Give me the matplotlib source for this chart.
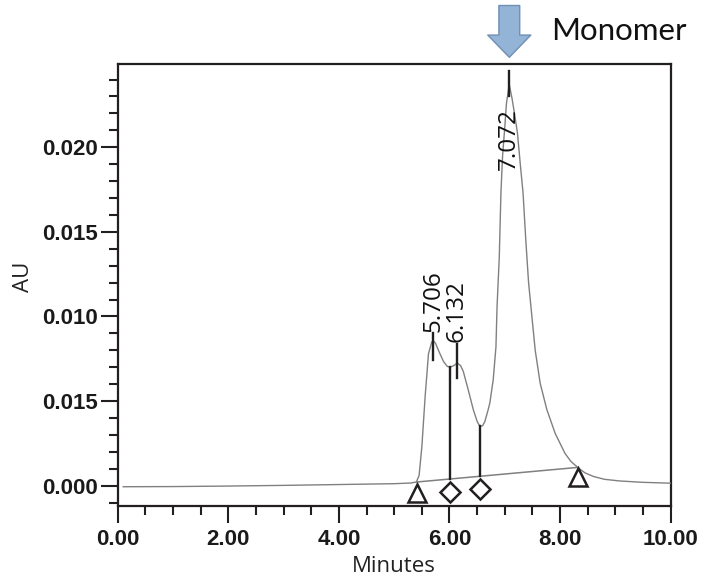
import matplotlib
matplotlib.use("Agg")
import matplotlib.pyplot as plt
import matplotlib.ticker as tick

# ---- data (signal in mAU, converted to AU when drawn) ----
time_min = [0.10, 1.00, 2.00, 3.00, 4.00, 5.00, 5.30, 5.40, 5.45, 5.50,
            5.56, 5.62, 5.68, 5.71, 5.75, 5.80, 5.89, 5.96, 6.01, 6.08,
            6.14, 6.20, 6.25, 6.34, 6.43, 6.50, 6.55, 6.60, 6.64, 6.70,
            6.73, 6.79, 6.84, 6.86, 6.90, 6.93, 6.96, 7.00, 7.03, 7.08,
            7.13, 7.18, 7.23, 7.28, 7.33, 7.38, 7.43, 7.49, 7.55, 7.64,
            7.76, 7.91, 8.09, 8.20, 8.33, 8.45, 8.60, 8.80, 9.08, 9.50, 10.00]
signal_mau = [-0.06, -0.05, -0.02, 0.02, 0.07, 0.12, 0.16, 0.22, 0.60, 2.30,
              5.30, 7.80, 8.50, 8.56, 8.40, 8.00, 7.35, 7.05, 7.00, 7.10,
              7.25, 7.10, 6.75, 5.65, 4.50, 3.80, 3.50, 3.55, 3.80, 4.50,
              4.90, 6.25, 8.20, 10.60, 13.50, 17.30, 19.50, 21.20, 22.60, 23.70,
              22.90, 21.90, 20.80, 19.00, 17.30, 14.50, 12.00, 10.00, 8.00, 6.05,
              4.50, 3.10, 1.90, 1.42, 1.05, 0.76, 0.55, 0.38, 0.28, 0.20, 0.15]

peak_times = [5.706, 6.132, 7.072]
peak_labels = ["5.706", "6.132", "7.072"]
peak_mark_lo = [7.44, 6.36, 23.0]
peak_mark_hi = [9.02, 8.40, 24.5]

drop_times = [6.01, 6.55]
drop_bottom = [0.39, 0.55]
drop_top = [7.00, 3.50]

base_times = [5.41, 8.31]
base_mau = [0.22, 1.08]

tri_times = [5.41, 8.33]
tri_mau = [-0.43, 0.50]
dia_times = [6.01, 6.56]
dia_mau = [-0.39, -0.18]

x_ticks = [0, 2, 4, 6, 8, 10]
x_ticklabels = ["0.00", "2.00", "4.00", "6.00", "8.00", "10.00"]
y_ticks = [0.000, 0.005, 0.010, 0.015, 0.020]
y_ticklabels = ["0.000", "0.015", "0.010", "0.015", "0.020"]

INK = "#231f20"
TRACE = "#808080"


def au(vals):
    return [v * 1e-3 for v in vals]


fig = plt.figure(figsize=(7.12, 5.77), dpi=100)
ax = fig.add_axes([0.1653, 0.1230, 0.7767, 0.7655])

ax.plot(time_min, au(signal_mau), color=TRACE, lw=1.0, zorder=3)
ax.plot(base_times, au(base_mau), color=TRACE, lw=1.1, zorder=2)

for t, lo, hi in zip(drop_times, drop_bottom, drop_top):
    ax.plot([t, t], [lo * 1e-3, hi * 1e-3], color=INK, lw=1.7, zorder=4)
for t, lo, hi in zip(peak_times, peak_mark_lo, peak_mark_hi):
    ax.plot([t, t], [lo * 1e-3, hi * 1e-3], color=INK, lw=1.7, zorder=4)

ax.plot(tri_times, au(tri_mau), ls="none", marker="^", ms=13, mfc="white",
        mec=INK, mew=1.8, zorder=5)
ax.plot(dia_times, au(dia_mau), ls="none", marker="D", ms=10.5, mfc="white",
        mec=INK, mew=1.8, zorder=5)

# peak retention-time labels
for t, hi, lab in zip(peak_times[:2], peak_mark_hi[:2], peak_labels[:2]):
    ax.annotate(lab, (t, hi * 1e-3), xytext=(0, 1), textcoords="offset points",
                rotation=90, ha="center", va="bottom", fontsize=17.5,
                family="Open Sans", color="#111111", zorder=6)
ax.annotate(peak_labels[2], (peak_times[2], 20.5e-3), xytext=(0, 0),
            textcoords="offset points", rotation=90, ha="center", va="center",
            fontsize=17.5, family="Open Sans", color="#111111", zorder=6)

ax.set_xlim(0, 10)
ax.set_ylim(-0.0012, 0.0249)

ax.set_xticks(x_ticks)
ax.set_xticklabels(x_ticklabels)
ax.xaxis.set_minor_locator(tick.MultipleLocator(0.5))
ax.set_yticks(y_ticks)
ax.set_yticklabels(y_ticklabels)
ax.yaxis.set_minor_locator(tick.FixedLocator([i * 0.001 for i in range(-1, 25)]))

ax.tick_params(axis="both", which="major", direction="out", length=12, width=1.5,
               color=INK, labelsize=16, labelcolor="#1a1a1a")
ax.tick_params(axis="both", which="minor", direction="out", length=6.5, width=1.5,
               color=INK)
ax.tick_params(axis="x", which="major", pad=4.5)
ax.tick_params(axis="y", which="major", pad=2.5)
for lbl in ax.get_xticklabels() + ax.get_yticklabels():
    lbl.set_family("Liberation Sans")
    lbl.set_fontweight("bold")

for sp in ax.spines.values():
    sp.set_linewidth(1.6)
    sp.set_color(INK)

ax.set_xlabel("Minutes", family="Open Sans", fontsize=16, color="#222222")
ax.set_ylabel("AU", family="Open Sans", fontsize=16, color="#222222")
ax.xaxis.set_label_coords(0.5, -0.113)
ax.yaxis.set_label_coords(-0.152, 0.52)

# monomer arrow and caption
ax.annotate("", xy=(509.3 / 712, 1 - 57.3 / 577), xycoords="figure fraction",
            xytext=(509.3 / 712, 1 - 5.5 / 577), textcoords="figure fraction",
            arrowprops=dict(arrowstyle="simple,head_length=16,head_width=31,tail_width=15",
                            mutation_scale=1, shrinkA=0, shrinkB=0,
                            fc="#93b4d6", ec="#6f8fb3", lw=1.0))
fig.text(551 / 712, 1 - 31 / 577, "Monomer", family="Lato", fontsize=22.5,
         ha="left", va="center", color="#111111")

fig.savefig("out.png", dpi=100)
